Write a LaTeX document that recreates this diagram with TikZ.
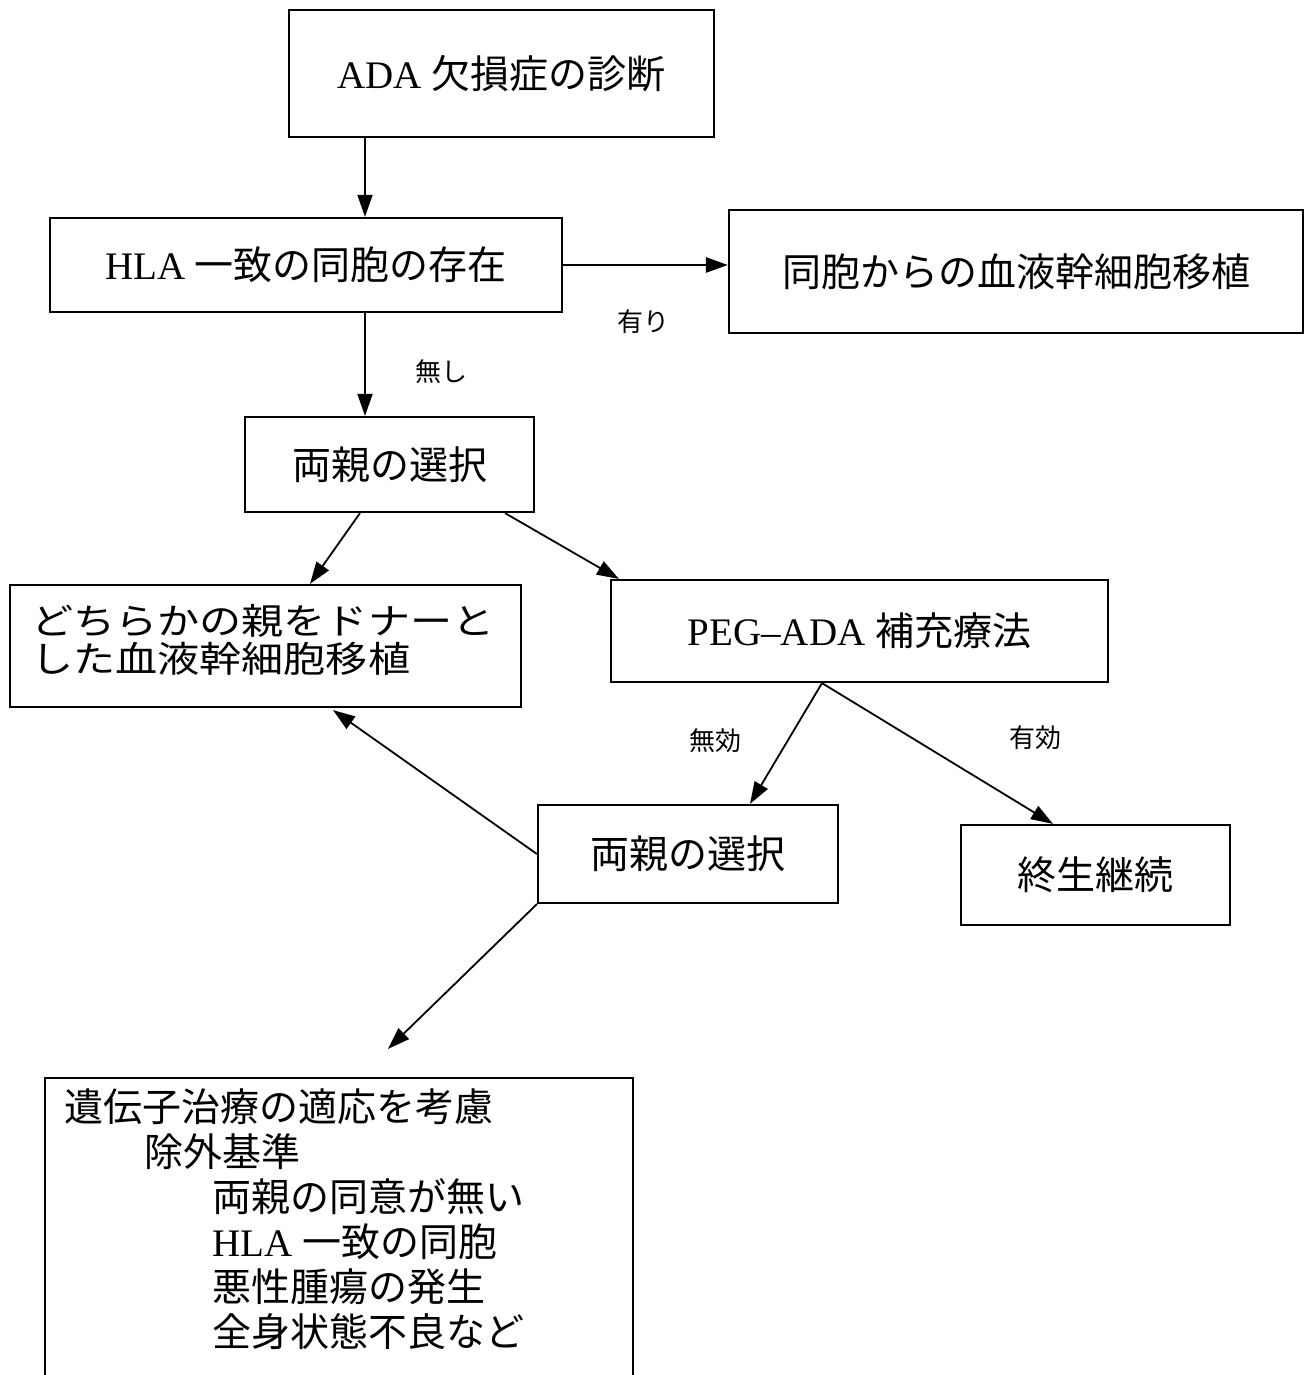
\documentclass[tikz,border=0pt]{standalone}
\usepackage{graphicx}
\usepackage{fontspec}
\setmainfont{Noto Sans CJK JP}
\newfontfamily\lat{Liberation Serif}
\usetikzlibrary{arrows.meta}
\begin{document}
\begin{tikzpicture}[x=1pt,y=-1pt,
  box/.style={draw,line width=2.2pt,rectangle,inner sep=0pt,font=\fontsize{39}{42}\selectfont},
  arr/.style={line width=1.8pt,-{Triangle[length=22pt,width=15pt]}},
  lab/.style={font=\fontsize{26}{28}\selectfont}]
\clip (0,0) rectangle (1308,1375);
\fill[white] (0,0) rectangle (1308,1375);
% boxes
\node[box,minimum width=425pt,minimum height=127pt] (ada) at (501.5,73.5) {{\lat ADA }欠損症の診断};
\node[box,minimum width=512pt,minimum height=94pt] (hla) at (306,265) {{\lat HLA }一致の同胞の存在};
\node[box,minimum width=574pt,minimum height=123pt] (sib) at (1016,271.5) {同胞からの血液幹細胞移植};
\node[box,minimum width=289pt,minimum height=95pt] (par1) at (389.5,464.5) {両親の選択};
\node[box,minimum width=511pt,minimum height=122pt] (donor) at (265.5,646) {};
\node[anchor=west,align=left,inner sep=0pt,font=\fontsize{36}{38}\selectfont] (donortxt)
  at ([xshift=22pt,yshift=6pt]donor.west)
  {\scalebox{1.17}[1]{どちらかの親をドナーと}\\\scalebox{1.17}[1]{した血液幹細胞移植}};
\node[box,minimum width=497pt,minimum height=102pt] (peg) at (859.5,631) {{\lat PEG–ADA }補充療法};
\node[box,minimum width=300pt,minimum height=98pt] (par2) at (688,854) {両親の選択};
\node[box,minimum width=269pt,minimum height=100pt] (life) at (1095.5,875) {終生継続};
\node[box,minimum width=588pt,minimum height=322pt] (gene) at (339,1239) {};
\node[anchor=north west,align=left,inner sep=0pt,font=\fontsize{39}{45}\selectfont] (genetxt)
  at ([xshift=20pt,yshift=-12pt]gene.north west)
  {遺伝子治療の適応を考慮\\
   \hspace*{80pt}除外基準\\
   \hspace*{148pt}両親の同意が無い\\
   \hspace*{148pt}{\lat HLA }一致の同胞\\
   \hspace*{148pt}悪性腫瘍の発生\\
   \hspace*{148pt}全身状態不良など};
% labels
\node[lab] (lyes) at (643,322) {有り};
\node[lab] (lno) at (441,372) {無し};
\node[lab] (lbad) at (715,741) {無効};
\node[lab] (lgood) at (1035,738) {有効};
% connectors
\draw[arr,line width=1.5pt] ([xshift=-136.5pt]ada.south) -- ([xshift=59pt]hla.north);
\draw[arr,line width=2.6pt] (hla.east) -- (hla.east -| sib.west);
\draw[arr] ([xshift=59pt]hla.south) -- ([xshift=-24.5pt]par1.north);
\draw[arr] ([xshift=-29.5pt]par1.south) -- ([xshift=44.5pt]donor.north);
\draw[arr] ([xshift=115.5pt]par1.south) -- ([xshift=9pt]peg.north west);
\draw[arr] ([xshift=-37.5pt]peg.south) -- ([xshift=62pt]par2.north);
\draw[arr] ([xshift=-37.5pt]peg.south) -- ([xshift=-42.5pt]life.north);
\draw[arr] (par2.west) -- ([xshift=67.5pt,yshift=-2pt]donor.south);
\draw[arr] (par2.south west) -- ([xshift=49pt,yshift=28pt]gene.north);
\end{tikzpicture}
\end{document}
